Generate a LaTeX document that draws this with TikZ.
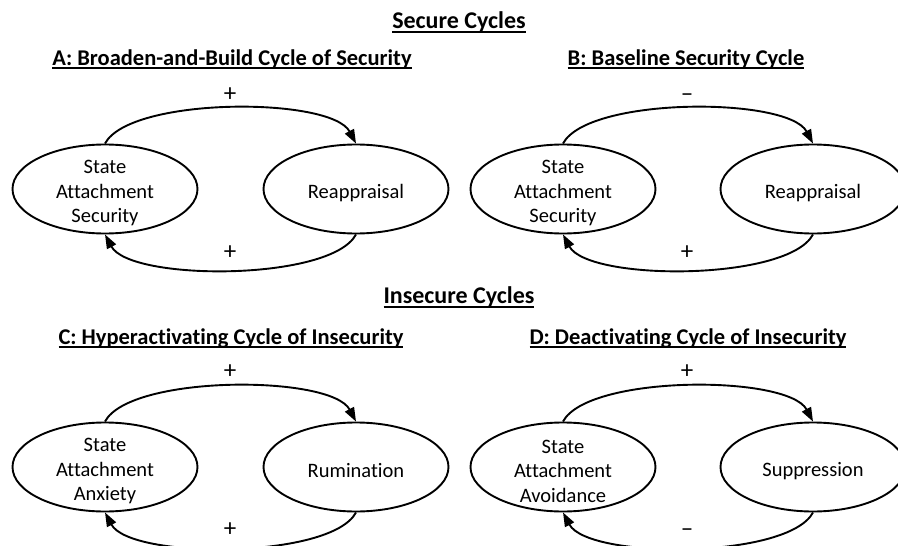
\documentclass[tikz,border=0pt]{standalone}
\usepackage{fontspec}
\setmainfont[Ligatures={NoCommon}]{Carlito}
\usetikzlibrary{shapes.geometric,arrows.meta}
\newcommand\myul[2][4pt]{\setbox0\hbox{#2}\rlap{\rule[-#1]{\wd0}{1.6pt}}\box0}
\begin{document}
\begin{tikzpicture}[x=1pt,y=-1pt,
  state/.style={draw, ellipse, line width=1.9pt, minimum width=185pt, minimum height=89pt, inner sep=0pt},
  lbl/.style={font=\fontsize{20.5}{24.5}\selectfont, align=center, inner sep=0pt},
  sect/.style={font=\fontsize{24}{28}\selectfont\bfseries, anchor=base, inner sep=0pt},
  ptitle/.style={font=\fontsize{22.5}{27}\selectfont\bfseries, anchor=base, inner sep=0pt},
  sign/.style={font=\fontsize{25}{28}\selectfont, inner sep=0pt},
  link/.style={line width=1.9pt, -{Triangle[length=14pt,width=10pt]}}]
\useasboundingbox (0,0) rectangle (898,546);
% titles
\node[sect] (t1) at (459,28) {\myul[4.5pt]{Secure Cycles}};
\node[sect] (t2) at (459,303) {\myul[4.5pt]{Insecure Cycles}};
\node[ptitle] (tA) at (232,65) {\myul{A: Broaden-and-Build Cycle of Security}};
\node[ptitle] (tB) at (686,65) {\myul{B: Baseline Security Cycle}};
\node[ptitle] (tC) at (231,344) {\myul{C: Hyperactivating Cycle of Insecurity}};
\node[ptitle] (tD) at (688,344) {\myul{D: Deactivating Cycle of Insecurity}};
% ellipses row 1
\node[state] (AL) at (105,189) {};
\node[state] (AR) at (356,189) {};
\node[state] (BL) at (563,189) {};
\node[state] (BR) at (813,189) {};
% ellipses row 2
\node[state] (CL) at (105,467) {};
\node[state] (CR) at (356,467) {};
\node[state] (DL) at (563,467) {};
\node[state] (DR) at (813,467) {};
% texts
\node[lbl] (ALt) at (105,193) {State\\Attachment\\Security};
\node[lbl] (ARt) at (356,193) {Reappraisal};
\node[lbl] (BLt) at (563,193) {State\\Attachment\\Security};
\node[lbl] (BRt) at (813,193) {Reappraisal};
\node[lbl] (CLt) at (105,471) {State\\Attachment\\Anxiety};
\node[lbl] (CRt) at (356,471) {Rumination};
\node[lbl] (DLt) at (563,471) {State\\Attachment\\Avoidance};
\node[lbl] (DRt) at (813,471) {Suppression};
% arcs
\draw[link] (AL.north) .. controls +(25,-47) and +(-25,-47) .. (AR.north);
\draw[link] (AR.south) .. controls +(-25,47) and +(25,47) .. (AL.south);
\draw[link] (BL.north) .. controls +(25,-47) and +(-25,-47) .. (BR.north);
\draw[link] (BR.south) .. controls +(-25,47) and +(25,47) .. (BL.south);
\draw[link] (CL.north) .. controls +(25,-47) and +(-25,-47) .. (CR.north);
\draw[link] (CR.south) .. controls +(-25,47) and +(25,47) .. (CL.south);
\draw[link] (DL.north) .. controls +(25,-47) and +(-25,-47) .. (DR.north);
\draw[link] (DR.south) .. controls +(-25,47) and +(25,47) .. (DL.south);
% signs
\node[sign] (sA1) at (230,95) {+};
\node[sign] (sA2) at (230,253) {+};
\node[sign] (sB1) at (687,98) {–};
\node[sign] (sB2) at (687,253) {+};
\node[sign] (sC1) at (230,372) {+};
\node[sign] (sC2) at (230,530) {+};
\node[sign] (sD1) at (687,372) {+};
\node[sign] (sD2) at (687,533) {–};
\end{tikzpicture}
\end{document}
